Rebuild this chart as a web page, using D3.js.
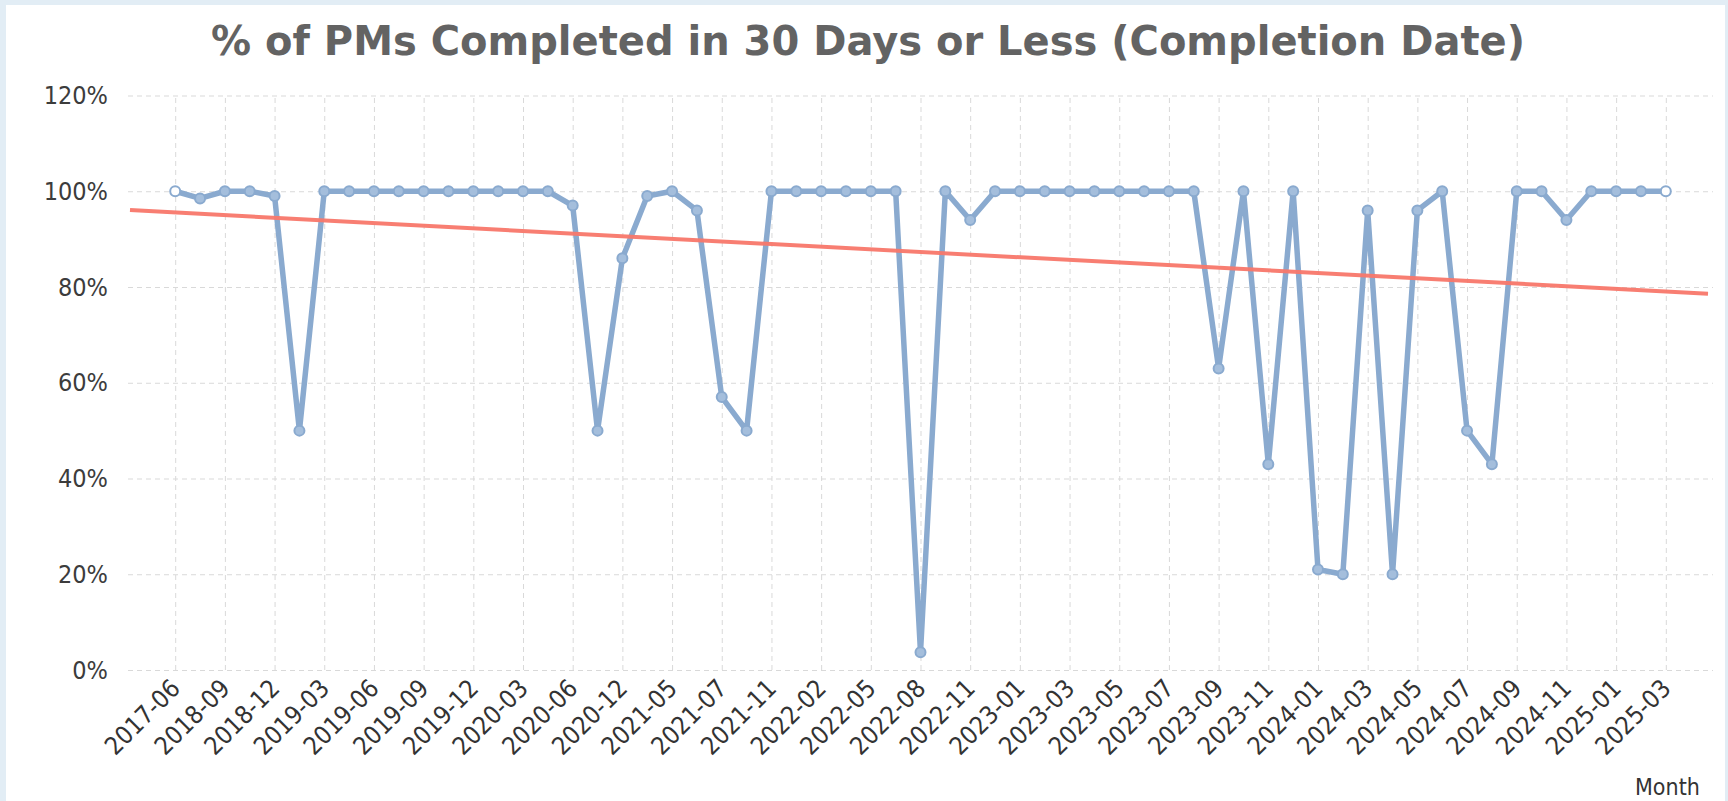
<!DOCTYPE html>
<html>
<head>
<meta charset="utf-8">
<script src="https://cdn.jsdelivr.net/npm/d3@7"></script>
<style>
  html, body { margin: 0; padding: 0; background: #e2edf5; }
  svg { display: block; }
</style>
</head>
<body>
<svg id="chart" width="1728" height="801"></svg>
<script>
// Reporting months (every other one is labelled on the axis)
const months = [
  "2017-06","2018-08","2018-09","2018-11","2018-12","2019-01","2019-03","2019-04",
  "2019-06","2019-07","2019-09","2019-10","2019-12","2020-01","2020-03","2020-04",
  "2020-06","2020-09","2020-12","2021-02","2021-05","2021-06","2021-07","2021-09",
  "2021-11","2021-12","2022-02","2022-03","2022-05","2022-06","2022-08","2022-09",
  "2022-11","2022-12","2023-01","2023-02","2023-03","2023-04","2023-05","2023-06",
  "2023-07","2023-08","2023-09","2023-10","2023-11","2023-12","2024-01","2024-02",
  "2024-03","2024-04","2024-05","2024-06","2024-07","2024-08","2024-09","2024-10",
  "2024-11","2024-12","2025-01","2025-02","2025-03"
];

// % of PMs completed within 30 days, by completion month
const pctCompleted = [
  100, 98.5, 100, 100, 99, 50, 100, 100,
  100, 100, 100, 100, 100, 100, 100, 100,
  97, 50, 86, 99, 100, 96, 57, 50,
  100, 100, 100, 100, 100, 100, 3.7, 100,
  94, 100, 100, 100, 100, 100, 100, 100,
  100, 100, 63, 100, 43, 100, 21, 20,
  96, 20, 96, 100, 50, 43, 100, 100,
  94, 100, 100, 100, 100
];

const yTicks = [0, 20, 40, 60, 80, 100, 120];
const titleText = "% of PMs Completed in 30 Days or Less (Completion Date)";
const xAxisTitle = "Month";

const W = 1728, H = 801;
const plot = { left: 128, right: 1713, top: 95.5, bottom: 670 };

const svg = d3.select("#chart");

// page frame and white panel
svg.append("rect").attr("width", W).attr("height", H).attr("fill", "#e2edf5");
svg.append("rect").attr("x", 6).attr("y", 5).attr("width", 1719).attr("height", H - 5).attr("fill", "#ffffff");

const x = d3.scalePoint().domain(months).range([plot.left, plot.right]).padding(1.9);
const y = d3.scaleLinear().domain([0, 120]).range([plot.bottom, plot.top]);

const labelFont = "'DejaVu Sans Condensed', 'DejaVu Sans', sans-serif";

// y axis with horizontal gridlines
const yAxis = svg.append("g")
  .attr("transform", `translate(${plot.left},0)`)
  .call(d3.axisLeft(y).tickValues(yTicks).tickSize(-(plot.right - plot.left))
    .tickPadding(20).tickFormat(d => d + "%"));
yAxis.select(".domain").remove();
yAxis.selectAll("line").attr("stroke", "#d9d9d9").attr("stroke-dasharray", "5,4");
yAxis.selectAll("text").attr("fill", "#3c3c3c")
  .style("font-family", labelFont).style("font-size", "25px");

// x axis with vertical gridlines on labelled months
const labelled = months.filter((d, i) => i % 2 === 0);
const xAxis = svg.append("g")
  .attr("transform", `translate(0,${plot.bottom})`)
  .call(d3.axisBottom(x).tickValues(labelled).tickSize(-(plot.bottom - plot.top)).tickPadding(0));
xAxis.select(".domain").remove();
xAxis.selectAll("line").attr("stroke", "#d9d9d9").attr("stroke-dasharray", "5,4");
xAxis.selectAll("text")
  .attr("fill", "#333333")
  .style("font-family", labelFont).style("font-size", "25px")
  .attr("text-anchor", "end")
  .attr("y", 0).attr("dy", 0)
  .attr("transform", "translate(6,20) rotate(-45)");

// least-squares trend of the monthly values
const idx = months.map((d, i) => i);
const mx = d3.mean(idx), my = d3.mean(pctCompleted);
const sxy = d3.sum(idx, i => (i - mx) * (pctCompleted[i] - my));
const sxx = d3.sum(idx, i => (i - mx) * (i - mx));
const slope = sxy / sxx, intercept = my - slope * mx;
const x0 = x(months[0]), step = x.step();
const trendEnds = [plot.left + 2, plot.right - 5].map(px => {
  const i = (px - x0) / step;
  return [px, intercept + slope * i];
});

// completion line
const line = d3.line().x((d, i) => x(months[i])).y(d => y(d));
svg.append("path")
  .datum(pctCompleted)
  .attr("d", line)
  .attr("fill", "none")
  .attr("stroke", "#8aaacf")
  .attr("stroke-width", 5.5)
  .attr("stroke-linejoin", "round")
  .attr("stroke-linecap", "round");

// markers; first and last drawn open
svg.append("g").selectAll("circle")
  .data(pctCompleted)
  .join("circle")
  .attr("cx", (d, i) => x(months[i]))
  .attr("cy", d => y(d))
  .attr("r", 5)
  .attr("fill", (d, i) => (i === 0 || i === months.length - 1) ? "#ffffff" : "#a4bedc")
  .attr("stroke", "#8aaacf")
  .attr("stroke-width", 2);

// trend line
svg.append("path")
  .datum(trendEnds)
  .attr("d", d3.line().x(d => d[0]).y(d => y(d[1])))
  .attr("fill", "none")
  .attr("stroke", "#f8776a")
  .attr("stroke-width", 4)
  .attr("stroke-opacity", 0.95);

// title
svg.append("text")
  .attr("x", 868).attr("y", 55)
  .attr("text-anchor", "middle")
  .attr("fill", "#636363")
  .style("font-family", "'DejaVu Sans', Verdana, sans-serif")
  .style("font-weight", "bold")
  .style("font-size", "40px")
  .text(titleText);

// axis title
svg.append("text")
  .attr("x", 1635).attr("y", 795)
  .attr("fill", "#333333")
  .style("font-family", labelFont)
  .style("font-size", "23px")
  .text(xAxisTitle);
</script>
</body>
</html>
